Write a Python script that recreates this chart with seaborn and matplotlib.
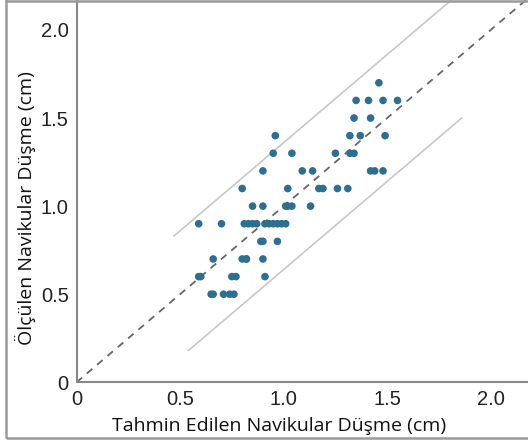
import numpy as np
import pandas as pd
import seaborn as sns
import matplotlib.pyplot as plt
from matplotlib.patches import Rectangle

# tahmin edilen (x) ve olculen (y) navikular dusme, cm
tahmin = [0.59, 0.60, 0.70,
          0.65, 0.66, 0.71, 0.74, 0.76,
          0.66, 0.80, 0.82, 0.82, 0.90,
          0.59, 0.75, 0.77, 0.91,
          0.81, 0.83, 0.85, 0.87, 0.91, 0.93, 0.95, 0.97, 0.99, 1.01,
          0.89, 0.90, 0.97,
          0.85, 0.90, 1.01, 1.02, 1.04, 1.13,
          0.80, 1.02, 1.17, 1.19, 1.26, 1.31,
          0.90, 1.09, 1.14, 1.42, 1.44, 1.48,
          0.95, 1.04, 1.25, 1.32, 1.34,
          0.96, 1.32, 1.37, 1.49,
          1.34, 1.42,
          1.35, 1.41, 1.48, 1.55,
          1.46]
olculen = [0.9, 0.6, 0.9,
           0.5, 0.5, 0.5, 0.5, 0.5,
           0.7, 0.7, 0.7, 0.7, 0.7,
           0.6, 0.6, 0.6, 0.6,
           0.9, 0.9, 0.9, 0.9, 0.9, 0.9, 0.9, 0.9, 0.9, 0.9,
           0.8, 0.8, 0.8,
           1.0, 1.0, 1.0, 1.0, 1.0, 1.0,
           1.1, 1.1, 1.1, 1.1, 1.1, 1.1,
           1.2, 1.2, 1.2, 1.2, 1.2, 1.2,
           1.3, 1.3, 1.3, 1.3, 1.3,
           1.4, 1.4, 1.4, 1.4,
           1.5, 1.5,
           1.6, 1.6, 1.6, 1.6,
           1.7]

# uyum cizgisi ve sinirlar
ozdes_x = [0, 2.2]
ust_x = [0.47, 1.86]
alt_x = [0.54, 1.86]
sinir = 0.36

tick_vals = [0, 0.5, 1.0, 1.5, 2.0]
tick_labels = ['0', '0.5', '1.0', '1.5', '2.0']

df = pd.DataFrame({'tahmin': tahmin, 'olculen': olculen})

sns.set_style('white')
fig = plt.figure(figsize=(5.28, 4.43), dpi=100)
ax = fig.add_axes([76.5 / 528, (443 - 382.3) / 443, 1 - 76.5 / 528, 382.3 / 443])

ax.plot(ozdes_x, ozdes_x, color='#666666', lw=1.3, ls=(0, (4, 3.5)), zorder=1)
ax.plot(ust_x, [v + sinir for v in ust_x], color='#c8c8c8', lw=1.2, zorder=1)
ax.plot(alt_x, [v - sinir for v in alt_x], color='#c8c8c8', lw=1.2, zorder=1)

sns.scatterplot(data=df, x='tahmin', y='olculen', ax=ax, color='#2e6e90',
                s=30, edgecolor='none', zorder=3)

ax.set_xlim(0, 2.18)
ax.set_ylim(0, 2.17)
ax.set_xticks(tick_vals)
ax.set_xticklabels(tick_labels)
ax.set_yticks(tick_vals)
ax.set_yticklabels(tick_labels)
ax.tick_params(direction='inout', length=7, width=1.2, color='#888888',
               labelsize=14.5, labelcolor='#222222', pad=2)
for lab in ax.get_xticklabels() + ax.get_yticklabels():
    lab.set_family(['Liberation Sans', 'DejaVu Sans'])

for s in ['top', 'right']:
    ax.spines[s].set_visible(False)
for s in ['left', 'bottom']:
    ax.spines[s].set_color('#888888')
    ax.spines[s].set_linewidth(1.5)

ax.set_xlabel('Tahmin Edilen Navikular Düşme (cm)', fontsize=14,
              family=['Open Sans', 'DejaVu Sans'], color='#111111')
ax.set_ylabel('Ölçülen Navikular Düşme (cm)', fontsize=14,
              family=['Open Sans', 'DejaVu Sans'], color='#111111')
ax.xaxis.set_label_coords((279 - 76.5) / (528 - 76.5), -0.09)
ax.yaxis.set_label_coords(-0.09, (382.3 - 208) / 382.3)

# cerceve
fig.patches.append(Rectangle((6 / 528, 5 / 443), 1.2, 1.0,
                             transform=fig.transFigure, fill=False,
                             edgecolor='#9a9a9a', lw=1.8))
fig.add_artist(plt.Line2D([6 / 528, 1], [1 - 1 / 443, 1 - 1 / 443],
                          transform=fig.transFigure, color='#9a9a9a', lw=1.8))

fig.savefig('out.png', dpi=100)
